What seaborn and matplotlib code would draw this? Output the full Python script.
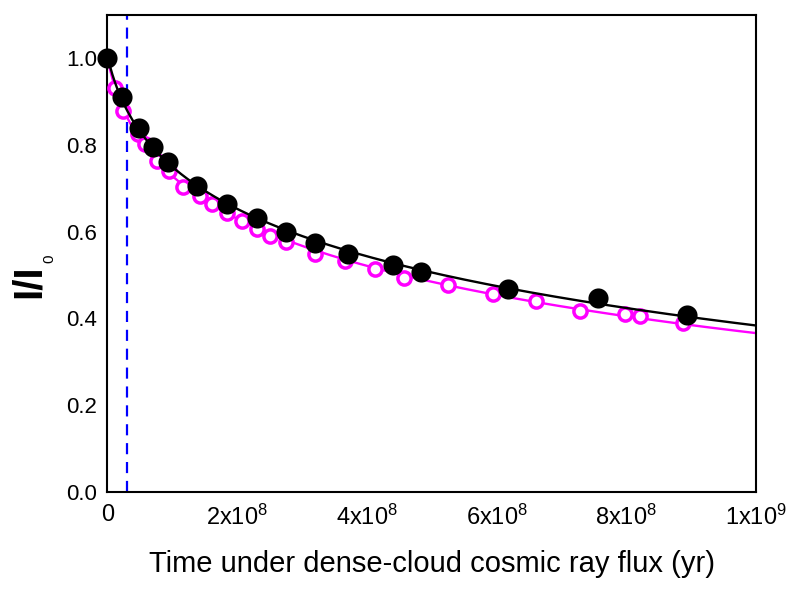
import numpy as np
import pandas as pd
import seaborn as sns
import matplotlib
matplotlib.use("Agg")
import matplotlib.pyplot as plt
from matplotlib.ticker import FuncFormatter, MultipleLocator

# ---------------------------------------------------------------------------
# Data (time in units of 1e6 yr)
# ---------------------------------------------------------------------------
black_t = [0, 23, 49, 71, 94, 139, 185, 231, 276, 320, 371, 441, 484, 618, 757, 894]
black_y = [1.000, 0.910, 0.839, 0.795, 0.761, 0.706, 0.664, 0.632, 0.600, 0.575,
           0.549, 0.524, 0.506, 0.467, 0.446, 0.407]

magenta_t = [0, 12, 25, 48, 59, 77, 96, 117, 143, 162, 185, 208, 231, 251, 276,
             320, 367, 413, 458, 525, 595, 661, 729, 798, 821, 888]
magenta_y = [1.000, 0.931, 0.878, 0.825, 0.802, 0.763, 0.740, 0.703, 0.683, 0.664,
             0.644, 0.625, 0.607, 0.591, 0.577, 0.549, 0.533, 0.513, 0.494, 0.478,
             0.457, 0.439, 0.418, 0.409, 0.405, 0.389]

cloud_time = 30  # dashed marker, 1e6 yr

sns.set_style("white")
plt.rcParams["font.family"] = ["Liberation Sans", "DejaVu Sans"]
plt.rcParams["mathtext.fontset"] = "custom"
plt.rcParams["mathtext.rm"] = "Liberation Sans"
plt.rcParams["mathtext.it"] = "Liberation Sans:italic"
plt.rcParams["mathtext.bf"] = "Liberation Sans:bold"

df_black = pd.DataFrame({"t": np.array(black_t) * 1e6, "y": black_y})
df_mag = pd.DataFrame({"t": np.array(magenta_t) * 1e6, "y": magenta_y})


# ---------------------------------------------------------------------------
# Smooth fit curves through each series (quadratic in log(1 + t/tau))
# ---------------------------------------------------------------------------
def fit_curve(df, tau=2e7):
    u = np.log1p(df["t"] / tau)
    coef = np.polyfit(u, df["y"], 2)
    grid = np.linspace(0, 1e9, 500)
    return pd.DataFrame({"t": grid, "y": np.polyval(coef, np.log1p(grid / tau))})


fit_black = fit_curve(df_black)
fit_mag = fit_curve(df_mag)

fig = plt.figure(figsize=(8, 5.94), dpi=100)
ax = fig.add_axes([0.134, 0.172, 0.811, 0.803])

ax.axvline(cloud_time * 1e6, color="#0000FF", linestyle=(0, (5, 3.5)), linewidth=1.6, zorder=1)

sns.lineplot(data=fit_mag, x="t", y="y", ax=ax, color="#FF00FF", linewidth=1.7, zorder=2)
ax.plot(df_mag["t"], df_mag["y"], linestyle="none", marker="o", markersize=9.5,
        markerfacecolor="white", markeredgecolor="#FF00FF", markeredgewidth=2.5, zorder=3)
sns.lineplot(data=fit_black, x="t", y="y", ax=ax, color="black", linewidth=1.7, zorder=4)
sns.scatterplot(data=df_black, x="t", y="y", ax=ax, color="black", s=210,
                edgecolor="black", linewidth=0, zorder=5, clip_on=False)

ax.set_xlim(0, 1e9)
ax.set_ylim(0, 1.1)
ax.xaxis.set_major_locator(MultipleLocator(2e8))
ax.xaxis.set_minor_locator(MultipleLocator(1e8))
ax.yaxis.set_major_locator(MultipleLocator(0.2))
ax.yaxis.set_minor_locator(MultipleLocator(0.1))


def sci_fmt(v, pos):
    if abs(v) < 1:
        return "0"
    if v < 0:
        return ""
    e = int(np.floor(np.log10(v) + 1e-9))
    m = int(round(v / 10 ** e))
    return f"{m}x10$^{{{e}}}$"


ax.xaxis.set_major_formatter(FuncFormatter(sci_fmt))
ax.yaxis.set_major_formatter(FuncFormatter(lambda v, p: f"{v:.1f}"))

ax.tick_params(which="both", direction="in", top=False, right=False, width=1.3,
               labelsize=16, colors="black")
ax.tick_params(axis="x", which="major", length=6.5, pad=9, labelsize=17)
ax.tick_params(axis="y", which="major", length=6.5, pad=7)
ax.tick_params(which="minor", length=3.5)

for sp in ax.spines.values():
    sp.set_linewidth(1.5)
    sp.set_color("black")

ax.set_xlabel("Time under dense-cloud cosmic ray flux (yr)", fontsize=21, color="black")
ax.xaxis.set_label_coords(0.5, -0.122)
ax.set_ylabel("")

# y label: large bold I/I with a small subscript 0
fig.text(29 / 800, 1 - 281 / 594, "I/I", fontsize=29, fontweight="bold", rotation=90,
         ha="center", va="center", color="black")
fig.text(49 / 800, 1 - 259 / 594, "0", fontsize=11, rotation=90,
         ha="center", va="center", color="black")
ax.grid(False)

plt.savefig("out.png", dpi=100)
